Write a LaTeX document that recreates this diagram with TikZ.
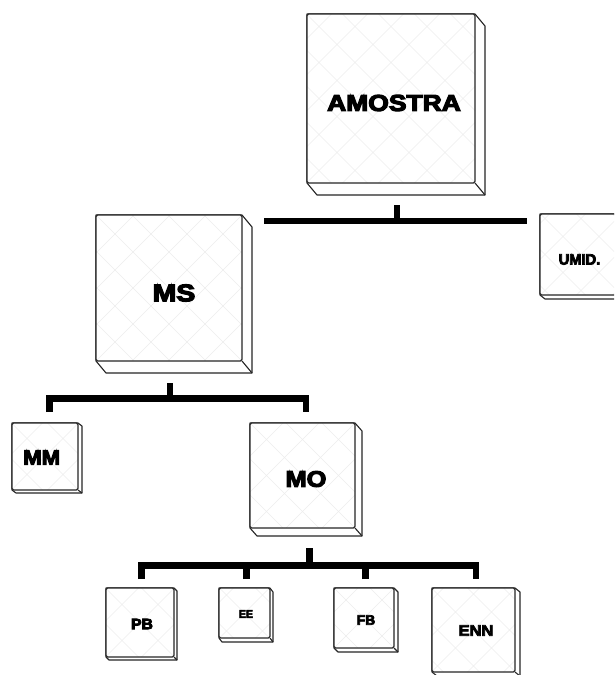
\documentclass[tikz,border=0pt]{standalone}
\usepackage{fontspec}
\setmainfont{Liberation Sans}
\newfontfamily\heavy[FakeBold=5]{Liberation Sans Bold}
\tikzset{
  boxline/.style={draw=black!85, line width=1.1pt, line join=round},
  face/.style={boxline, fill=white, rounded corners=1.5pt, inner sep=0pt, outer sep=0pt},
  hatch/.style={draw=black!7, line width=0.6pt},
  conn/.style={draw=black, line width=6.5pt, line cap=butt, line join=miter},
  lab/.style={inner sep=0pt, font=\heavy},
}
\newcommand\bloc[7]{%
  \draw[boxline,fill=white] (#2,#3) -- (#4,#3) -- ({#4+#6},{#3+#7}) -- ({#4+#6},{#5+#7}) -- ({#2+#6},{#5+#7}) -- (#2,#5) -- cycle;
  \draw[boxline] (#4,#5) -- ({#4+#6},{#5+#7});
  \node[face, minimum width={(#4-#2)*1pt}, minimum height={(#5-#3)*1pt},
    path picture={%
      \foreach \k in {-8,...,8}{%
        \draw[hatch] ([shift={(\k*36-200,-200)}]path picture bounding box.center) -- ++(400,400);
        \draw[hatch] ([shift={(\k*36-200,200)}]path picture bounding box.center) -- ++(400,-400);
      }}] (#1) at ({(#2+#4)/2},{(#3+#5)/2}) {};
}
\newcommand\lbl[5]{\node[lab] (#1) at (#2) {\fontsize{#3}{#3}\selectfont\scalebox{#4}[1]{#5}};}
\begin{document}
\begin{tikzpicture}[x=1pt,y=-1pt]
\useasboundingbox (0,0) rectangle (614,675);
\clip (0,0) rectangle (614,675);
\fill[white] (0,0) rectangle (614,675);
% boxes
\bloc{amostra}{307}{14}{475}{183}{10}{12}
\bloc{umid}{540}{214}{622}{295}{5}{4}
\bloc{ms}{96}{215}{242}{361}{10}{12}
\bloc{mm}{12}{423}{78}{490}{4}{3}
\bloc{mo}{250}{423}{355}{528}{7}{8}
\bloc{pb}{106}{588}{174}{657}{3}{3}
\bloc{ee}{219}{588}{270}{638}{3}{4}
\bloc{fb}{334}{588}{394}{648}{4}{4}
\bloc{enn}{432}{588}{515}{672}{5}{4}
% labels
\lbl{amostraL}{394,103}{23}{1.15}{AMOSTRA}
\lbl{umidL}{579.5,259.5}{15}{0.98}{UMID.}
\lbl{msL}{174,293}{24}{1.18}{MS}
\lbl{mmL}{41.7,457.5}{20.5}{1.08}{MM}
\lbl{moL}{306,479}{22.4}{1.13}{MO}
\lbl{pbL}{142,624}{15}{1.05}{PB}
\lbl{eeL}{246,614}{11.4}{0.93}{EE}
\lbl{fbL}{366,620}{13.7}{1.01}{FB}
\lbl{ennL}{476,630.5}{15}{1.1}{ENN}
% connector points
\coordinate (s1a) at (397,205); \coordinate (s1b) at (397,221);
\coordinate (b1L) at (264,221); \coordinate (b1R) at (527,221);
\coordinate (s2a) at (170,383); \coordinate (s2b) at (170,398.5);
\coordinate (l2a) at (49.5,412); \coordinate (l2b) at (306,412);
\coordinate (s3a) at (309.5,548); \coordinate (s3b) at (309.5,565.5);
\coordinate (l3a) at (141.5,579); \coordinate (l3d) at (476,579);
\coordinate (l3b) at (246.5,579); \coordinate (l3c) at (365.5,579);
% connectors
\draw[conn] (b1L) -- (b1R);
\draw[conn] (s1a) -- (s1b);
\draw[conn] (l2a) |- (s2b) -| (l2b);
\draw[conn] (s2a) -- (s2b);
\draw[conn] (l3a) |- (s3b) -| (l3d);
\draw[conn] (s3a) -- (s3b);
\draw[conn] (l3b) -- (l3b |- s3b);
\draw[conn] (l3c) -- (l3c |- s3b);
\end{tikzpicture}
\end{document}
